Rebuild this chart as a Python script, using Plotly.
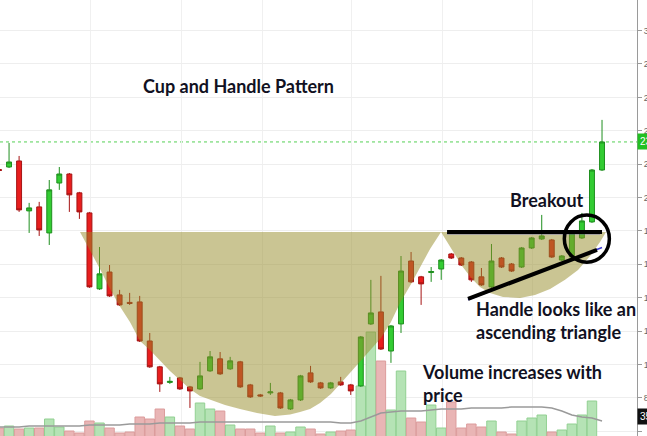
import plotly.graph_objects as go

# ---------------- data ----------------
idx = list(range(61))
opens = [21.68, 21.83, 22.19, 19.20, 19.44, 17.88, 20.87, 21.41, 20.28, 19.08,
         14.53, 15.54, 14.17, 13.72, 13.75, 11.41, 9.86, 8.93, 9.20, 8.66,
         8.54, 9.62, 10.34, 9.74, 10.16, 8.78, 8.18, 8.30, 8.30, 7.34,
         7.88, 9.50, 8.90, 8.60, 8.96, 8.78, 8.72, 12.43, 13.15, 10.81,
         12.43, 16.20, 15.25, 15.51, 15.72, 16.62, 16.38, 16.14, 15.25, 14.65,
         16.38, 16.02, 15.84, 16.98, 17.52, 17.46, 16.26, 16.44, 17.58, 18.54,
         21.65]
highs = [21.89, 23.27, 22.49, 19.68, 19.74, 21.05, 21.83, 21.47, 20.34, 19.14,
         17.04, 15.96, 14.47, 14.29, 14.11, 11.89, 9.92, 9.26, 9.26, 8.72,
         10.16, 10.81, 10.75, 10.46, 10.22, 8.84, 8.24, 8.90, 8.36, 7.94,
         9.38, 9.92, 8.96, 8.96, 9.26, 8.84, 11.71, 15.07, 15.31, 12.37,
         16.50, 16.74, 15.31, 15.84, 16.32, 16.68, 16.44, 16.20, 15.78, 17.22,
         16.44, 16.08, 17.04, 17.64, 18.96, 17.52, 16.56, 17.94, 19.08, 21.71,
         24.65]
lows = [21.41, 21.77, 19.14, 17.88, 17.70, 17.16, 20.46, 19.14, 18.72, 14.59,
        14.47, 14.05, 13.51, 13.57, 11.35, 9.80, 8.36, 8.84, 8.48, 7.40,
        8.48, 9.56, 9.38, 9.68, 8.60, 8.00, 8.06, 8.18, 7.34, 7.28,
        7.82, 8.90, 8.54, 8.54, 8.72, 8.18, 8.66, 12.37, 10.87, 10.10,
        11.89, 14.89, 13.57, 14.95, 15.07, 16.32, 15.90, 14.95, 14.71, 14.59,
        15.78, 15.54, 15.78, 16.92, 17.46, 16.38, 16.20, 16.38, 17.52, 18.48,
        21.59]
closes = [21.62, 22.13, 19.26, 19.38, 18.06, 20.46, 21.41, 20.16, 19.14, 14.65,
          15.43, 14.11, 13.57, 13.66, 11.41, 9.86, 8.84, 8.99, 8.54, 8.42,
          9.32, 10.46, 9.44, 10.22, 8.66, 8.06, 8.12, 8.36, 7.40, 7.88,
          9.32, 8.96, 8.60, 8.90, 8.78, 8.42, 11.65, 13.09, 10.93, 12.31,
          15.60, 14.95, 14.83, 15.57, 16.26, 16.38, 15.96, 15.07, 14.77, 16.20,
          15.84, 15.60, 16.98, 17.58, 17.70, 16.44, 16.50, 17.88, 18.60, 21.65,
          23.33]
volume = [120, 140, 110, 120, 120, 210, 130, 90, 70, 190,
          170, 120, 70, 80, 230, 210, 310, 230, 140, 110,
          370, 310, 290, 150, 110, 110, 70, 140, 70, 80,
          130, 110, 60, 80, 90, 100, 540, 1080, 790, 300,
          690, 220, 180, 350, 120, 380, 120, 160, 130, 190,
          80, 60, 190, 220, 250, 80, 100, 160, 250, 390,
          30]
volume_ma = [130, 130, 130, 140, 140, 140, 140, 140, 140, 150,
             150, 150, 150, 160, 160, 160, 170, 170, 170, 170,
             180, 180, 180, 180, 180, 180, 180, 180, 180, 180,
             180, 180, 180, 180, 170, 170,
             190, 230, 270, 280, 290, 290, 290, 300, 310, 310, 310, 320, 320, 320,
             320, 330, 330, 330, 330, 320, 290, 250, 230, 220, 190]

# cup + handle outline (candle index, price)
cup_x = [8.06, 9.05, 10.05, 10.95, 11.94, 13.03, 14.03, 15.02, 16.02, 17.01,
         18.01, 19.00, 20.00, 21.29, 22.49, 23.98, 25.67, 27.46, 28.96, 29.95,
         30.95, 31.94, 33.03, 34.03, 35.02, 36.02, 37.01, 38.01, 39.00, 39.90,
         41.00, 41.99, 42.89, 43.98,
         45.07, 46.07, 46.97, 47.86, 48.86, 50.15, 51.84, 53.33, 54.83, 56.32,
         57.61, 58.81, 59.80, 60.40, 8.06]
cup_y = [17.94, 16.86, 15.72, 14.65, 13.57, 12.55, 11.41, 10.87, 10.22, 9.62,
         9.08, 8.54, 8.12, 7.82, 7.58, 7.34, 7.10, 6.92, 7.01, 7.16,
         7.34, 7.70, 8.24, 8.90, 9.56, 10.22, 10.87, 11.59, 12.55, 13.69,
         14.83, 15.90, 16.92, 17.94,
         16.86, 15.90, 15.19, 14.65, 14.29, 14.05, 13.99, 14.17, 14.53, 15.07,
         15.66, 16.50, 17.34, 17.94, 17.94]

resistance_x = [44.58, 60.0]
resistance_y = [17.94, 17.94]
support_x = [46.67, 59.5]
support_y = [13.93, 16.86]
circle_center = (58.49, 17.54)

title_text = "Cup and Handle Pattern"
breakout_text = "Breakout"
handle_text = "Handle looks like an<br>ascending triangle"
volume_text = "Volume increases with<br>price"

# ---------------- figure ----------------
W, H = 647, 436
PW = 637  # plot width in px

vol_colors = ['#b5e3b5' if c >= o else '#e9b5b5' for o, c in zip(opens, closes)]
vol_lines = ['#92d092' if c >= o else '#dc9c9c' for o, c in zip(opens, closes)]

fig = go.Figure()
fig.add_trace(go.Bar(x=idx, y=volume, yaxis='y', marker=dict(color=vol_colors,
                     line=dict(color=vol_lines, width=1)), hoverinfo='skip'))
fig.add_trace(go.Scatter(x=idx, y=volume_ma, yaxis='y', mode='lines',
                         line=dict(color='#9a9a9a', width=1.5), hoverinfo='skip'))
fig.add_trace(go.Candlestick(x=idx, open=opens, high=highs, low=lows, close=closes,
                             yaxis='y2', whiskerwidth=0,
                             increasing=dict(fillcolor='#33cc33', line=dict(color='#1f8f1f', width=1)),
                             decreasing=dict(fillcolor='#e81e1e', line=dict(color='#a51414', width=1))))
fig.add_trace(go.Scatter(x=cup_x, y=cup_y, yaxis='y2', mode='lines', fill='toself',
                         fillcolor='rgba(150,140,40,0.5)', line=dict(width=0),
                         hoverinfo='skip'))

last = closes[-1]
shapes = [
    dict(type='line', xref='paper', x0=0, x1=1, yref='y2', y0=last, y1=last,
         line=dict(color='#55d055', width=1, dash='dot'), layer='below'),
    dict(type='line', xref='x', yref='y2', x0=resistance_x[0], x1=resistance_x[1] - 0.2,
         y0=resistance_y[0] - 0.09, y1=resistance_y[1] - 0.09, line=dict(color='#3b3bd0', width=1.5)),
    dict(type='line', xref='x', yref='y2', x0=support_x[0], x1=support_x[1] + 0.5,
         y0=support_y[0] - 0.05, y1=support_y[1] + 0.15, line=dict(color='#3b3bd0', width=1.5)),
    dict(type='line', xref='x', yref='y2', x0=resistance_x[0], x1=resistance_x[1],
         y0=resistance_y[0], y1=resistance_y[1], line=dict(color='black', width=4)),
    dict(type='line', xref='x', yref='y2', x0=support_x[0], x1=support_x[1],
         y0=support_y[0], y1=support_y[1], line=dict(color='black', width=4)),
    dict(type='circle', xref='x', yref='y2',
         x0=circle_center[0] - 2.24, x1=circle_center[0] + 2.24,
         y0=circle_center[1] - 1.41, y1=circle_center[1] + 1.41,
         line=dict(color='black', width=3.5)),
]

txt_font = dict(family='Lato', size=18, color='#111122', weight='bold')


def px_x(p):
    return p / PW


def px_y(p):
    return 1 - p / H


annotations = [
    dict(text=title_text, xref='paper', yref='paper', x=px_x(141), y=px_y(86),
         xanchor='left', yanchor='middle', showarrow=False, font=txt_font),
    dict(text=breakout_text, xref='paper', yref='paper', x=px_x(508), y=px_y(200),
         xanchor='left', yanchor='middle', showarrow=False, font=txt_font),
    dict(text=handle_text, xref='paper', yref='paper', x=px_x(474), y=px_y(320.5),
         xanchor='left', yanchor='middle', showarrow=False, font=txt_font, align='left'),
    dict(text=volume_text, xref='paper', yref='paper', x=px_x(420), y=px_y(383.5),
         xanchor='left', yanchor='middle', showarrow=False, font=txt_font, align='left'),
    dict(text='%.2f' % last, xref='paper', yref='y2', x=1, y=last, xanchor='left',
         yanchor='middle', showarrow=False, bgcolor='#22c022', borderpad=2,
         font=dict(family='Arial', size=10, color='white')),
    dict(text='359.6K', xref='paper', yref='y', x=1, y=240, xanchor='left',
         yanchor='middle', showarrow=False, bgcolor='#111111', borderpad=2,
         font=dict(family='Arial', size=10, color='white')),
]

fig.update_layout(
    template='none',
    width=W, height=H,
    margin=dict(l=0, r=W - PW, t=0, b=0, pad=0),
    paper_bgcolor='white', plot_bgcolor='white',
    showlegend=False,
    bargap=0.06,
    xaxis=dict(range=[0.1, 63.48], showticklabels=False, ticks='',
               tickvals=[9.15, 18.2, 26.2, 35.1, 44.1, 53.1],
               showgrid=True, gridcolor='#f0f0f0', gridwidth=1, zeroline=False,
               showline=False, rangeslider=dict(visible=False), automargin=False),
    yaxis=dict(range=[40, 4400], visible=False, showgrid=False, zeroline=False,
               automargin=False),
    yaxis2=dict(range=[5.72, 31.83], overlaying='y', side='right', dtick=2, tick0=0,
                showgrid=True, gridcolor='#eeeeee', gridwidth=1, zeroline=False,
                showline=True, linecolor='#9a9a9a', linewidth=1,
                ticks='outside', ticklen=4, tickcolor='#9a9a9a',
                tickfont=dict(family='Arial', size=9, color='#666666'),
                automargin=False),
    shapes=shapes,
    annotations=annotations,
)

fig.write_html("out.html")
